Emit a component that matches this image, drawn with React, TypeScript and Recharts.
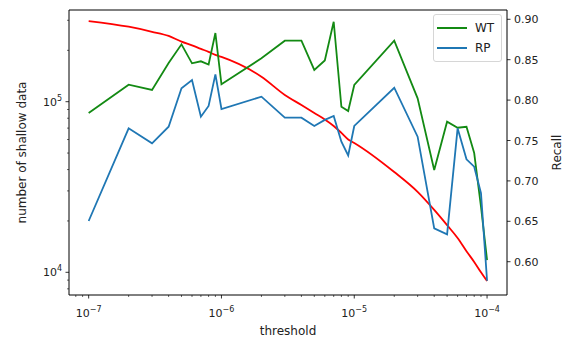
import {
  ComposedChart,
  Line,
  XAxis,
  YAxis,
  Legend,
  ReferenceArea,
  Label,
} from 'recharts'

const thresholds = [
  1e-7, 2e-7, 3e-7, 4e-7, 5e-7, 6e-7, 7e-7, 8e-7, 9e-7,
  1e-6, 2e-6, 3e-6, 4e-6, 5e-6, 6e-6, 7e-6, 8e-6, 9e-6,
  1e-5, 2e-5, 3e-5, 4e-5, 5e-5, 6e-5, 7e-5, 8e-5, 9e-5,
  1e-4,
]

const wtRecall = [
  0.784, 0.819, 0.8125, 0.846, 0.869, 0.8455, 0.848, 0.844, 0.883,
  0.8196, 0.8517, 0.8735, 0.8735, 0.8373, 0.849, 0.897, 0.7918, 0.7865,
  0.8187, 0.8735, 0.8022, 0.7135, 0.7733, 0.7658, 0.767, 0.7345, 0.668,
  0.602,
]

const rpRecall = [
  0.6504, 0.7651, 0.7465, 0.7671, 0.8146, 0.8249, 0.7795, 0.7927, 0.8319,
  0.789, 0.8042, 0.7782, 0.7782, 0.768, 0.7755, 0.7803, 0.7485, 0.7315,
  0.768, 0.8153, 0.7547, 0.6413, 0.6339, 0.7651, 0.7267, 0.7176, 0.6847,
  0.5765,
]

const shallowCount = [
  297000, 275000, 257000, 243000, 225000, 214000, 204000, 196000, 188000,
  183000, 140000, 109500, 95600, 85800, 78700, 72100, 65600, 60100,
  57300, 38700, 29600, 23200, 18900, 15900, 13300, 11500, 10000,
  8880,
]

const xTicks = [
  8e-8, 9e-8,
  1e-7, 2e-7, 3e-7, 4e-7, 5e-7, 6e-7, 7e-7, 8e-7, 9e-7,
  1e-6, 2e-6, 3e-6, 4e-6, 5e-6, 6e-6, 7e-6, 8e-6, 9e-6,
  1e-5, 2e-5, 3e-5, 4e-5, 5e-5, 6e-5, 7e-5, 8e-5, 9e-5,
  1e-4,
]
const leftTicks = [
  8000, 9000, 10000, 20000, 30000, 40000, 50000, 60000, 70000, 80000, 90000,
  100000, 200000, 300000,
]
const rightTicks = [0.6, 0.65, 0.7, 0.75, 0.8, 0.85, 0.9]
const legendOrder = ['wt', 'rp']

const xDomain = [7.11e-8, 1.413e-4]
const leftDomain = [7362, 344700]
const rightDomain = [0.5588, 0.9115]

const data = thresholds.map((t, i) => ({
  t,
  wt: wtRecall[i],
  rp: rpRecall[i],
  shallow: shallowCount[i],
}))

const FONT = 'DejaVu Sans'
const TEXT = '#222'

function isMajor(v: number) {
  const l = Math.log10(v)
  return Math.abs(l - Math.round(l)) < 1e-6
}

function Pow({ x, y, exp, anchor }: any) {
  return (
    <text x={x} y={y} textAnchor={anchor} fontSize={11} fill={TEXT} fontFamily={FONT}>
      <tspan>10</tspan>
      <tspan dy={-5} fontSize={8}>{exp < 0 ? '\u2212' + -exp : exp}</tspan>
    </text>
  )
}

const XTick = (props: any) => {
  const { x, y, payload } = props
  const major = isMajor(payload.value)
  return (
    <g>
      <line x1={x} x2={x} y1={y} y2={y + (major ? 3.5 : 2)} stroke="#000" strokeWidth={major ? 0.8 : 0.6} />
      {major && <Pow x={x} y={y + 22} exp={Math.round(Math.log10(payload.value))} anchor="middle" />}
    </g>
  )
}

const LeftTick = (props: any) => {
  const { x, y, payload } = props
  const major = isMajor(payload.value)
  return (
    <g>
      <line x1={x - (major ? 3.5 : 2)} x2={x} y1={y} y2={y} stroke="#000" strokeWidth={major ? 0.8 : 0.6} />
      {major && <Pow x={x - 7} y={y + 4} exp={Math.round(Math.log10(payload.value))} anchor="end" />}
    </g>
  )
}

const RightTick = (props: any) => {
  const { x, y, payload } = props
  return (
    <g>
      <line x1={x} x2={x + 3.5} y1={y} y2={y} stroke="#000" strokeWidth={0.8} />
      <text x={x + 7} y={y + 4} fontSize={11} fill={TEXT} fontFamily={FONT}>
        {payload.value.toFixed(2)}
      </text>
    </g>
  )
}

const LegendBox = ({ payload }: any) => {
  const items = legendOrder
    .map((k) => (payload || []).find((p: any) => p.dataKey === k))
    .filter(Boolean)
  return (
    <div
      style={{
        border: '1px solid #d6d6d6',
        borderRadius: 3,
        background: 'rgba(255,255,255,0.8)',
        padding: '3px 0 3px 3px',
        fontFamily: FONT,
        fontSize: 12,
        color: TEXT,
      }}
    >
      {items.map((p: any) => (
        <div key={p.value} style={{ display: 'flex', alignItems: 'center', height: 20 }}>
          <div style={{ width: 30, height: 1.8, background: p.color, marginRight: 8 }} />
          <span>{p.value}</span>
        </div>
      ))}
    </div>
  )
}

export default function App() {
  return (
    <div style={{ position: 'absolute', left: 0, top: 0, width: 571, height: 338, background: '#fff' }}>
      <ComposedChart
        width={571}
        height={338}
        data={data}
        margin={{ top: 10, right: 0, bottom: 0, left: 0 }}
        style={{ fontFamily: FONT }}
      >
        <XAxis
          dataKey="t"
          type="number"
          scale="log"
          domain={xDomain}
          allowDataOverflow
          ticks={xTicks}
          interval={0}
          tick={<XTick />}
          tickLine={false}
          tickSize={0}
          tickMargin={0}
          axisLine={false}
          height={43}
        >
          <Label
            content={({ viewBox }: any) => (
              <text
                x={viewBox.x + viewBox.width / 2}
                y={viewBox.y + 40}
                textAnchor="middle"
                fontSize={12}
                fill={TEXT}
                fontFamily={FONT}
              >
                threshold
              </text>
            )}
          />
        </XAxis>
        <YAxis
          yAxisId="left"
          scale="log"
          domain={leftDomain}
          allowDataOverflow
          ticks={leftTicks}
          interval={0}
          tick={<LeftTick />}
          tickLine={false}
          tickSize={0}
          tickMargin={0}
          axisLine={false}
          width={69}
        >
          <Label
            content={({ viewBox }: any) => {
              const cx = viewBox.x + 26
              const cy = viewBox.y + viewBox.height / 2
              return (
                <text
                  x={cx}
                  y={cy}
                  transform={`rotate(-90 ${cx} ${cy})`}
                  textAnchor="middle"
                  fontSize={12}
                  fill={TEXT}
                  fontFamily={FONT}
                >
                  number of shallow data
                </text>
              )
            }}
          />
        </YAxis>
        <YAxis
          yAxisId="right"
          orientation="right"
          domain={rightDomain}
          allowDataOverflow
          ticks={rightTicks}
          interval={0}
          tick={<RightTick />}
          tickLine={false}
          tickSize={0}
          tickMargin={0}
          axisLine={false}
          width={64}
        >
          <Label
            content={({ viewBox }: any) => {
              const cx = viewBox.x + 54
              const cy = viewBox.y + viewBox.height / 2
              return (
                <text
                  x={cx}
                  y={cy}
                  transform={`rotate(-90 ${cx} ${cy})`}
                  textAnchor="middle"
                  fontSize={12}
                  fill={TEXT}
                  fontFamily={FONT}
                >
                  Recall
                </text>
              )
            }}
          />
        </YAxis>
        <Line
          yAxisId="left"
          type="monotone"
          dataKey="shallow"
          stroke="#ff0000"
          strokeWidth={1.8}
          dot={false}
          legendType="none"
          isAnimationActive={false}
        />
        <Line
          yAxisId="right"
          dataKey="wt"
          name="WT"
          stroke="#138a13"
          strokeWidth={1.8}
          dot={false}
          isAnimationActive={false}
        />
        <Line
          yAxisId="right"
          dataKey="rp"
          name="RP"
          stroke="#1f77b4"
          strokeWidth={1.8}
          dot={false}
          isAnimationActive={false}
        />
        <ReferenceArea
          yAxisId="right"
          x1={xDomain[0]}
          x2={xDomain[1]}
          y1={rightDomain[0]}
          y2={rightDomain[1]}
          fill="none"
          stroke="#000"
          strokeWidth={1}
          ifOverflow="visible"
        />
        <Legend
          layout="vertical"
          align="center"
          verticalAlign="middle"
          content={<LegendBox />}
          wrapperStyle={{ top: 14, left: 433, width: 69 }}
        />
      </ComposedChart>
    </div>
  )
}
